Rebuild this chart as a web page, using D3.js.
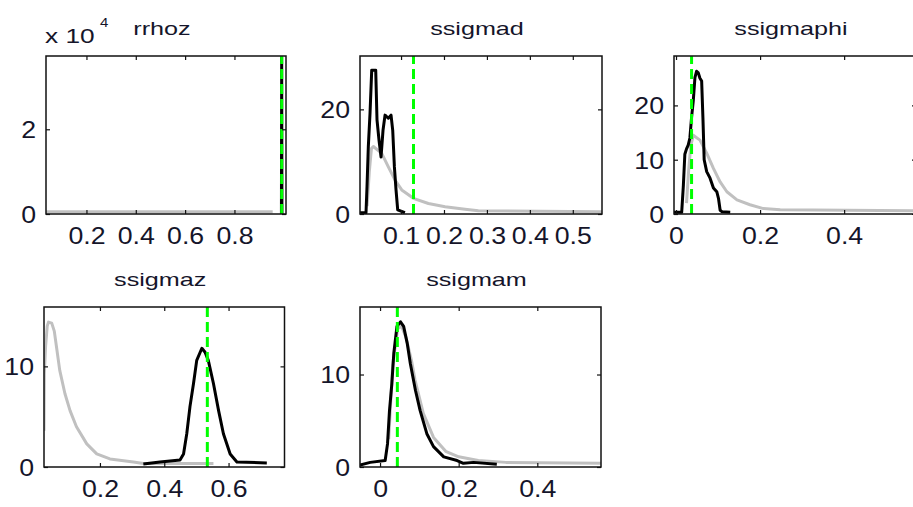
<!DOCTYPE html>
<html>
<head>
<meta charset="utf-8">
<script src="https://cdn.jsdelivr.net/npm/d3@7"></script>
<style>
  html, body { margin: 0; padding: 0; background: #fff; }
  svg { display: block; font-family: Arial, "Liberation Sans", sans-serif; }
</style>
</head>
<body>
<svg id="chart" width="913" height="507"></svg>
<script>
// Parameter names shown as panel titles
const paramNames = ["rrhoz", "ssigmad", "ssigmaphi", "ssigmaz", "ssigmam"];

// Posterior mode of each parameter (green dashed line)
const modeValues = [0.9915, 0.129, 0.037, 0.534, 0.044];

// Axis limits
const xDomains = [[0.036, 1.009], [0.0044, 0.568], [-0.0048, 0.571], [0.026, 0.774], [-0.051, 0.562]];
const yMaxima = [37300, 30.2, 29.1, 15.9, 17.3];

// Tick values
const xTickValues = [[0.2, 0.4, 0.6, 0.8], [0.1, 0.2, 0.3, 0.4, 0.5], [0, 0.2, 0.4], [0.2, 0.4, 0.6], [0, 0.2, 0.4]];
const yTickValues = [[0, 20000], [0, 20], [0, 10, 20], [0, 10], [0, 10]];
const yTickScale = [1e4, 1, 1, 1, 1];

// Prior densities [x, density] (grey)
const priorRrhoz = [[0.036, 550], [0.2, 550], [0.4, 550], [0.6, 550], [0.8, 550], [0.955, 550]];
const priorSsigmad = [[0.021, 1.5], [0.026, 8], [0.031, 12.5], [0.0355, 12.9], [0.055, 11.6], [0.0704, 9.0],
  [0.086, 6.5], [0.1016, 4.6], [0.1287, 3.0], [0.1637, 2.0], [0.2026, 1.4], [0.249, 0.9], [0.28, 0.6], [0.568, 0.45]];
const priorSsigmaphi = [[0.025, 2], [0.030, 8], [0.035, 12.5], [0.041, 14.5], [0.057, 13.6], [0.073, 11.2],
  [0.089, 8.4], [0.105, 5.9], [0.121, 4.1], [0.145, 2.6], [0.176, 1.7], [0.208, 1.0], [0.248, 0.8], [0.571, 0.6]];
const priorSsigmaz = [[0.026, 3.6], [0.027, 9.3], [0.031, 12.0], [0.036, 14.0], [0.040, 14.4], [0.050, 14.3],
  [0.058, 13.5], [0.065, 11.9], [0.075, 9.6], [0.091, 7.3], [0.107, 5.6], [0.127, 4.0], [0.159, 2.3],
  [0.190, 1.3], [0.231, 0.8], [0.304, 0.5], [0.335, 0.35], [0.553, 0.35]];
const priorSsigmam = [[0.022, 3], [0.032, 11], [0.045, 15.0], [0.055, 15.2], [0.066, 14.0], [0.080, 11.5],
  [0.089, 9.4], [0.110, 5.8], [0.136, 3.2], [0.167, 1.7], [0.200, 1.1], [0.250, 0.7], [0.320, 0.5], [0.562, 0.4]];

// Posterior densities [x, density] (black)
const postRrhoz = [[0.9905, 0], [0.9915, 37000], [0.9925, 0]];
const postSsigmad = [[0.0044, 0.25], [0.0184, 0.25], [0.0207, 5.2], [0.0238, 12.9], [0.0277, 19.2], [0.0317, 27.5],
  [0.041, 27.5], [0.044, 18.0], [0.0487, 14.1], [0.0534, 10.9], [0.058, 16.0], [0.0627, 18.9], [0.0704, 18.3],
  [0.0767, 18.9], [0.0806, 16.0], [0.0845, 9.0], [0.0883, 4.6], [0.0922, 0.8], [0.109, 0.25]];
const postSsigmaphi = [[-0.0048, 0.3], [0.0135, 0.3], [0.0175, 5.3], [0.021, 11.0], [0.025, 12.0], [0.029, 12.7],
  [0.033, 14.0], [0.037, 17.8], [0.041, 20.8], [0.045, 25.1], [0.049, 26.3], [0.053, 26.0], [0.057, 25.0],
  [0.061, 24.5], [0.064, 17.8], [0.067, 10.0], [0.073, 7.8], [0.081, 6.6], [0.089, 4.8], [0.097, 4.1],
  [0.101, 2.9], [0.105, 0.7], [0.110, 0.4], [0.129, 0.3]];
const postSsigmaz = [[0.335, 0.3], [0.387, 0.5], [0.449, 0.7], [0.460, 1.3], [0.470, 3.3], [0.480, 6.0],
  [0.491, 8.3], [0.501, 10.6], [0.517, 11.8], [0.527, 11.4], [0.537, 10.6], [0.553, 8.3], [0.569, 5.6],
  [0.584, 3.3], [0.605, 1.3], [0.626, 0.5], [0.719, 0.4]];
const postSsigmam = [[-0.051, 0.2], [-0.025, 0.5], [0.013, 0.7], [0.019, 2.5], [0.024, 6.1], [0.030, 9.0],
  [0.035, 12.3], [0.043, 15.2], [0.052, 15.7], [0.060, 15.2], [0.069, 13.4], [0.077, 11.2], [0.090, 8.3],
  [0.102, 6.1], [0.119, 3.6], [0.136, 2.2], [0.162, 1.1], [0.196, 0.7], [0.212, 0.4], [0.238, 0.5], [0.297, 0.3]];

const priorSeries = [priorRrhoz, priorSsigmad, priorSsigmaphi, priorSsigmaz, priorSsigmam];
const posteriorSeries = [postRrhoz, postSsigmad, postSsigmaphi, postSsigmaz, postSsigmam];

// Plot boxes in pixels
const boxes = [
  { l: 46, r: 286, t: 56, b: 214 },
  { l: 360, r: 602, t: 56, b: 214 },
  { l: 674, r: 916, t: 56, b: 214 },
  { l: 44, r: 284.5, t: 307, b: 467 },
  { l: 360, r: 601, t: 307, b: 467 }
];

const TEXT = "#15152a";
const svg = d3.select("#chart");
svg.append("rect").attr("width", 913).attr("height", 507).attr("fill", "#fff");

// Widen glyphs horizontally to the wide screen-font look
function stretch(sel, factor) {
  sel.each(function () {
    const w = this.getComputedTextLength();
    if (w > 0) {
      d3.select(this).attr("textLength", w * factor).attr("lengthAdjust", "spacingAndGlyphs");
    }
  });
}

const defs = svg.append("defs");

boxes.forEach((p, i) => {
  const x = d3.scaleLinear().domain(xDomains[i]).range([p.l, p.r]);
  const y = d3.scaleLinear().domain([0, yMaxima[i]]).range([p.b, p.t]);
  const g = svg.append("g");

  defs.append("clipPath").attr("id", "clip" + i)
    .append("rect").attr("x", p.l).attr("y", p.t).attr("width", p.r - p.l).attr("height", p.b - p.t);

  const plot = g.append("g").attr("clip-path", `url(#clip${i})`);
  const line = d3.line().x(d => x(d[0])).y(d => y(d[1]));

  plot.append("path").datum(priorSeries[i]).attr("d", line)
    .attr("fill", "none").attr("stroke", "#c0c0c0").attr("stroke-width", 3)
    .attr("stroke-linejoin", "round");
  plot.append("path").datum(posteriorSeries[i]).attr("d", line)
    .attr("fill", "none").attr("stroke", "#000").attr("stroke-width", 3)
    .attr("stroke-linejoin", "round");
  plot.append("line")
    .attr("x1", x(modeValues[i])).attr("x2", x(modeValues[i]))
    .attr("y1", y(0)).attr("y2", y(yMaxima[i]))
    .attr("stroke", "#00ff00").attr("stroke-width", 3).attr("stroke-dasharray", "10,5");

  // Inward ticks on all four sides
  const tk = 4;
  const bottom = g.append("g").attr("transform", `translate(0,${p.b})`)
    .call(d3.axisBottom(x).tickValues(xTickValues[i]).tickSize(-tk).tickFormat(d3.format("~g")));
  const top = g.append("g").attr("transform", `translate(0,${p.t})`)
    .call(d3.axisTop(x).tickValues(xTickValues[i]).tickSize(-tk).tickFormat(""));
  const left = g.append("g").attr("transform", `translate(${p.l},0)`)
    .call(d3.axisLeft(y).tickValues(yTickValues[i]).tickSize(-tk)
      .tickFormat(v => d3.format("~g")(v / yTickScale[i])));
  const right = g.append("g").attr("transform", `translate(${p.r},0)`)
    .call(d3.axisRight(y).tickValues(yTickValues[i]).tickSize(-tk).tickFormat(""));

  [bottom, top, left, right].forEach(a => {
    a.select(".domain").remove();
    a.selectAll(".tick line").attr("stroke", "#111").attr("stroke-width", 1.2);
  });

  bottom.selectAll("text")
    .attr("y", 30).attr("dy", null)
    .attr("font-size", 23).attr("font-family", "Arial, 'Liberation Sans', sans-serif")
    .attr("fill", TEXT).attr("text-anchor", "middle");
  left.selectAll("text")
    .attr("x", -10).attr("y", 8.4).attr("dy", null)
    .attr("font-size", 23).attr("font-family", "Arial, 'Liberation Sans', sans-serif")
    .attr("fill", TEXT).attr("text-anchor", "end");
  stretch(bottom.selectAll("text"), 1.16);
  stretch(left.selectAll("text"), 1.16);

  // Axes box
  g.append("rect")
    .attr("x", p.l).attr("y", p.t).attr("width", p.r - p.l).attr("height", p.b - p.t)
    .attr("fill", "none").attr("stroke", "#111").attr("stroke-width", 1.5);

  // Title
  const title = g.append("text")
    .attr("x", (p.l + p.r) / 2 - 4).attr("y", p.t - 21.5)
    .attr("text-anchor", "middle").attr("font-size", 18.5).attr("fill", TEXT)
    .text(paramNames[i]);
  stretch(title, 1.36);

  // Exponent note for the scaled y axis
  if (yTickScale[i] !== 1) {
    const base = g.append("text").attr("x", p.l - 1).attr("y", 42.7)
      .attr("font-size", 21).attr("fill", TEXT).text("x 10");
    stretch(base, 1.25);
    const ex = g.append("text").attr("x", p.l + 54).attr("y", 26.7)
      .attr("font-size", 12.5).attr("fill", TEXT).text(Math.log10(yTickScale[i]));
    stretch(ex, 1.2);
  }
});
</script>
</body>
</html>
